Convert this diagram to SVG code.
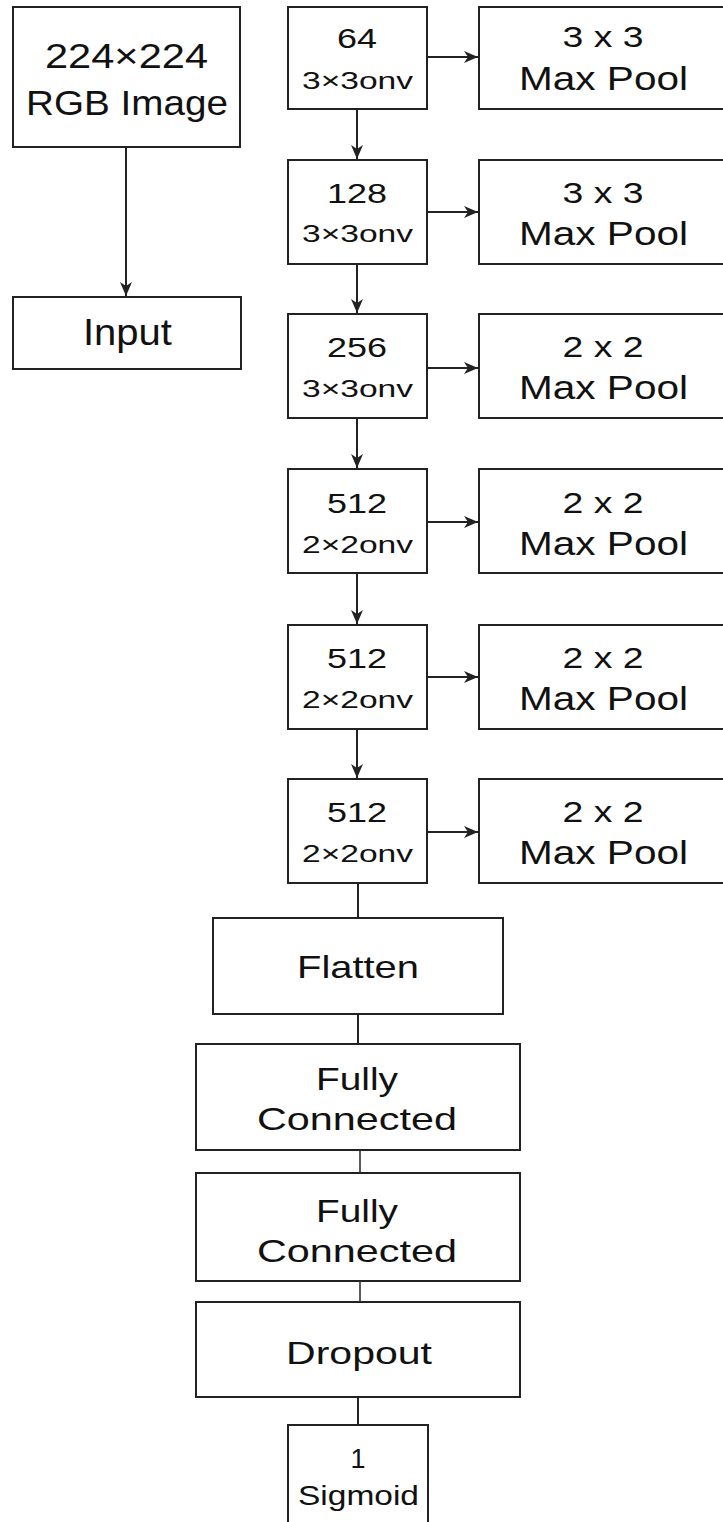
<svg xmlns="http://www.w3.org/2000/svg" width="723" height="1522" viewBox="0 0 723 1522">
<style>
.box{fill:#fff;stroke:#222;stroke-width:2}
.t{font-family:"Liberation Sans",Arial,sans-serif;fill:#111;text-anchor:middle}
.c{stroke:#222;stroke-width:2;fill:none}
.thin{stroke:#333;stroke-width:1.6;fill:none}
</style>
<defs>
<marker id="ah" markerUnits="userSpaceOnUse" markerWidth="16" markerHeight="14" refX="14" refY="7" orient="auto">
<path d="M0,1 L14,7 L0,13 L4,7 Z" fill="#222"/>
</marker>
</defs>
<rect width="723" height="1522" fill="#fff"/>

<g id="rgb">
<rect class="box" x="13" y="7" width="227" height="140"/>
<text class="t" x="126.5" y="68" font-size="35" textLength="163" lengthAdjust="spacingAndGlyphs">224×224</text>
<text class="t" x="127" y="115" font-size="35" textLength="202" lengthAdjust="spacingAndGlyphs">RGB Image</text>
</g>
<g id="input">
<rect class="box" x="13" y="297" width="228" height="72"/>
<text class="t" x="127.5" y="345" font-size="36" textLength="89" lengthAdjust="spacingAndGlyphs">Input</text>
</g>

<g id="conv1">
<rect class="box" x="288" y="7" width="139" height="102"/>
<text class="t" x="357" y="48" font-size="28" textLength="40" lengthAdjust="spacingAndGlyphs">64</text>
<text class="t" x="357.5" y="89" font-size="24" textLength="111" lengthAdjust="spacingAndGlyphs">3×3onv</text>
</g>
<g id="pool1">
<rect class="box" x="479" y="7" width="260" height="102"/>
<text class="t" x="603" y="47" font-size="30" textLength="81" lengthAdjust="spacingAndGlyphs">3 x 3</text>
<text class="t" x="603.5" y="90" font-size="33" textLength="169" lengthAdjust="spacingAndGlyphs">Max Pool</text>
</g>

<g id="conv2">
<rect class="box" x="288" y="160" width="139" height="104"/>
<text class="t" x="357" y="203" font-size="28" textLength="60" lengthAdjust="spacingAndGlyphs">128</text>
<text class="t" x="357.5" y="242" font-size="24" textLength="111" lengthAdjust="spacingAndGlyphs">3×3onv</text>
</g>
<g id="pool2">
<rect class="box" x="479" y="160" width="260" height="104"/>
<text class="t" x="603" y="203" font-size="30" textLength="81" lengthAdjust="spacingAndGlyphs">3 x 3</text>
<text class="t" x="603.5" y="245" font-size="33" textLength="169" lengthAdjust="spacingAndGlyphs">Max Pool</text>
</g>

<g id="conv3">
<rect class="box" x="288" y="314" width="139" height="104"/>
<text class="t" x="357" y="357" font-size="28" textLength="60" lengthAdjust="spacingAndGlyphs">256</text>
<text class="t" x="357.5" y="397" font-size="24" textLength="111" lengthAdjust="spacingAndGlyphs">3×3onv</text>
</g>
<g id="pool3">
<rect class="box" x="479" y="314" width="260" height="104"/>
<text class="t" x="603" y="357" font-size="30" textLength="81" lengthAdjust="spacingAndGlyphs">2 x 2</text>
<text class="t" x="603.5" y="399" font-size="33" textLength="169" lengthAdjust="spacingAndGlyphs">Max Pool</text>
</g>

<g id="conv4">
<rect class="box" x="288" y="469" width="139" height="104"/>
<text class="t" x="357" y="513" font-size="28" textLength="60" lengthAdjust="spacingAndGlyphs">512</text>
<text class="t" x="357.5" y="553" font-size="24" textLength="111" lengthAdjust="spacingAndGlyphs">2×2onv</text>
</g>
<g id="pool4">
<rect class="box" x="479" y="469" width="260" height="104"/>
<text class="t" x="603" y="513" font-size="30" textLength="81" lengthAdjust="spacingAndGlyphs">2 x 2</text>
<text class="t" x="603.5" y="555" font-size="33" textLength="169" lengthAdjust="spacingAndGlyphs">Max Pool</text>
</g>

<g id="conv5">
<rect class="box" x="288" y="625" width="139" height="104"/>
<text class="t" x="357" y="668" font-size="28" textLength="60" lengthAdjust="spacingAndGlyphs">512</text>
<text class="t" x="357.5" y="708" font-size="24" textLength="111" lengthAdjust="spacingAndGlyphs">2×2onv</text>
</g>
<g id="pool5">
<rect class="box" x="479" y="625" width="260" height="104"/>
<text class="t" x="603" y="668" font-size="30" textLength="81" lengthAdjust="spacingAndGlyphs">2 x 2</text>
<text class="t" x="603.5" y="710" font-size="33" textLength="169" lengthAdjust="spacingAndGlyphs">Max Pool</text>
</g>

<g id="conv6">
<rect class="box" x="288" y="779" width="139" height="104"/>
<text class="t" x="357" y="822" font-size="28" textLength="60" lengthAdjust="spacingAndGlyphs">512</text>
<text class="t" x="357.5" y="862" font-size="24" textLength="111" lengthAdjust="spacingAndGlyphs">2×2onv</text>
</g>
<g id="pool6">
<rect class="box" x="479" y="779" width="260" height="104"/>
<text class="t" x="603" y="822" font-size="30" textLength="81" lengthAdjust="spacingAndGlyphs">2 x 2</text>
<text class="t" x="603.5" y="864" font-size="33" textLength="169" lengthAdjust="spacingAndGlyphs">Max Pool</text>
</g>

<g id="flatten">
<rect class="box" x="213" y="918" width="290" height="96"/>
<text class="t" x="358" y="978" font-size="32" textLength="122" lengthAdjust="spacingAndGlyphs">Flatten</text>
</g>
<g id="fc1">
<rect class="box" x="196" y="1044" width="324" height="106"/>
<text class="t" x="357" y="1090" font-size="32" textLength="82" lengthAdjust="spacingAndGlyphs">Fully</text>
<text class="t" x="357" y="1130" font-size="32" textLength="200" lengthAdjust="spacingAndGlyphs">Connected</text>
</g>
<g id="fc2">
<rect class="box" x="196" y="1173" width="324" height="108"/>
<text class="t" x="357" y="1222" font-size="32" textLength="82" lengthAdjust="spacingAndGlyphs">Fully</text>
<text class="t" x="357" y="1262" font-size="32" textLength="200" lengthAdjust="spacingAndGlyphs">Connected</text>
</g>
<g id="dropout">
<rect class="box" x="196" y="1302" width="324" height="95"/>
<text class="t" x="359" y="1364" font-size="32" textLength="146" lengthAdjust="spacingAndGlyphs">Dropout</text>
</g>
<g id="sigmoid">
<rect class="box" x="288" y="1425" width="140" height="110"/>
<text class="t" x="358" y="1468" font-size="27">1</text>
<text class="t" x="358.5" y="1505" font-size="28" textLength="121" lengthAdjust="spacingAndGlyphs">Sigmoid</text>
</g>

<g id="connectors">
<line class="c" x1="126" y1="147" x2="126" y2="296" marker-end="url(#ah)"/>
<line class="c" x1="357" y1="109" x2="357" y2="159" marker-end="url(#ah)"/>
<line class="c" x1="357" y1="264" x2="357" y2="313" marker-end="url(#ah)"/>
<line class="c" x1="357" y1="418" x2="357" y2="468" marker-end="url(#ah)"/>
<line class="c" x1="357" y1="573" x2="357" y2="624" marker-end="url(#ah)"/>
<line class="c" x1="357" y1="729" x2="357" y2="778" marker-end="url(#ah)"/>
<line class="c" x1="427" y1="57" x2="478" y2="57" marker-end="url(#ah)"/>
<line class="c" x1="427" y1="212" x2="478" y2="212" marker-end="url(#ah)"/>
<line class="c" x1="427" y1="368" x2="478" y2="368" marker-end="url(#ah)"/>
<line class="c" x1="427" y1="522" x2="478" y2="522" marker-end="url(#ah)"/>
<line class="c" x1="427" y1="677" x2="478" y2="677" marker-end="url(#ah)"/>
<line class="c" x1="427" y1="832" x2="478" y2="832" marker-end="url(#ah)"/>
<line class="c" x1="358" y1="883" x2="358" y2="918"/>
<line class="c" x1="358" y1="1014" x2="358" y2="1044"/>
<line class="thin" x1="360" y1="1150" x2="360" y2="1173"/>
<line class="thin" x1="360" y1="1281" x2="360" y2="1302"/>
<line class="c" x1="358" y1="1397" x2="358" y2="1425"/>
</g>
</svg>
